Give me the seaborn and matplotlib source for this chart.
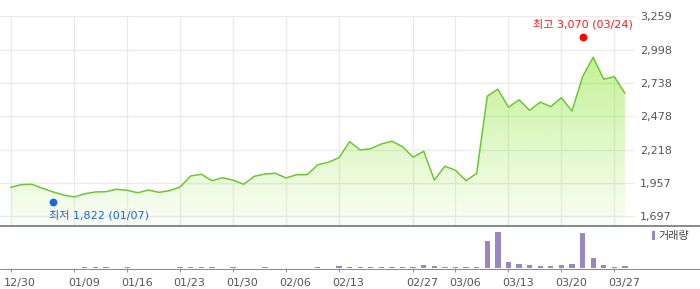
import numpy as np
import pandas as pd
import matplotlib
matplotlib.use('Agg')
import matplotlib.pyplot as plt
import matplotlib.transforms as mtransforms
from matplotlib.lines import Line2D
from matplotlib.patches import Patch
import seaborn as sns

# ---------------- data ----------------
dates = ['12/30', '01/02', '01/03', '01/06', '01/07', '01/08', '01/09',
         '01/10', '01/13', '01/14', '01/15', '01/16',
         '01/17', '01/20', '01/21', '01/22', '01/23',
         '01/24', '01/27', '01/28', '01/29', '01/30',
         '01/31', '02/03', '02/04', '02/05', '02/06',
         '02/07', '02/10', '02/11', '02/12', '02/13',
         '02/14', '02/17', '02/18', '02/24', '02/25', '02/26', '02/27',
         '02/28', '03/04', '03/05', '03/06',
         '03/07', '03/10', '03/11', '03/12', '03/13',
         '03/14', '03/17', '03/18', '03/19', '03/20',
         '03/21', '03/24', '03/25', '03/26', '03/27',
         '03/28']

close = [1923, 1944, 1947, 1916, 1887, 1863, 1848,
         1873, 1887, 1889, 1908, 1900,
         1881, 1902, 1884, 1897, 1926,
         2012, 2025, 1975, 1998, 1980,
         1947, 2009, 2027, 2033, 1996,
         2022, 2022, 2100, 2119, 2155,
         2280, 2215, 2225, 2262, 2283, 2241, 2158,
         2205, 1980, 2088, 2056,
         1975, 2033, 2636, 2690, 2549,
         2607, 2525, 2589, 2553, 2623,
         2519, 2787, 2939, 2768, 2787,
         2658]

volume_k = [10, 9, 11, 10, 12, 10, 11,
            72, 70, 72, 12, 70,
            11, 12, 10, 12, 72,
            70, 74, 70, 12, 72,
            11, 12, 72, 11, 10,
            12, 12, 72, 12, 130,
            74, 70, 72, 72, 70, 71, 74,
            185, 125, 72, 70,
            72, 74, 1620, 2160, 360,
            245, 180, 125, 128, 182,
            240, 2100, 600, 180, 72,
            125]

tick_dates = ['12/30', '01/09', '01/16', '01/23', '01/30', '02/06', '02/13',
              '02/27', '03/06', '03/13', '03/20', '03/27']
price_tick_labels = ['1,697', '1,957', '2,218', '2,478', '2,738', '2,998', '3,259']

high_date, high_value = '03/24', 3070
low_date, low_value = '01/07', 1822
volume_label = '거래량'

# ---------------- style ----------------
sns.set_theme(style='white')
plt.rcParams['font.family'] = ['DejaVu Sans', 'Noto Sans CJK KR']

LINE_C = '#6cc82f'
BAR_C = '#9a86c4'
GRID_C = '#ebebeb'
TXT_C = '#555555'

W, H = 700, 289
fig = plt.figure(figsize=(W / 100, H / 100), dpi=100)


def px_axes(x0, y0, x1, y1):
    return fig.add_axes([x0 / W, 1 - y1 / H, (x1 - x0) / W, (y1 - y0) / H])


ax = px_axes(0, 16.3, 635, 225.5)
axv = px_axes(0, 226, 635, 268)

n = len(close)
idx = np.arange(n)
df = pd.DataFrame({'i': idx, 'date': dates, 'close': close, 'volume': volume_k})
tick_pos = [dates.index(d) for d in tick_dates]
price_ticks = [float(s.replace(',', '')) for s in price_tick_labels]

xlim = (-1.01, 58.95)
ylim = (1625, price_ticks[-1])

# ---------------- price panel ----------------
sns.lineplot(data=df, x='i', y='close', ax=ax, color=LINE_C, lw=1.1, zorder=3)

poly = ax.fill_between(df['i'], df['close'], ylim[0], facecolor='none', edgecolor='none')
rgb = np.array([122, 226, 22]) / 255.0
rows = 256
grad = np.zeros((rows, 1, 4))
grad[:, 0, :3] = rgb
grad[:, 0, 3] = np.linspace(0.45, 0.035, rows)
im = ax.imshow(grad, extent=[0, n - 1, ylim[0], max(close)], aspect='auto',
               origin='upper', interpolation='bilinear', zorder=1)
im.set_clip_path(poly.get_paths()[0], transform=ax.transData)

ax.set_xlim(*xlim)
ax.set_ylim(*ylim)
ax.set_xticks(tick_pos)
ax.set_yticks(price_ticks)
ax.set_yticklabels(price_tick_labels)
ax.yaxis.tick_right()
ax.tick_params(axis='x', length=0, labelbottom=False, bottom=False)
ax.tick_params(axis='y', length=0, pad=3.6, labelsize=8, labelcolor=TXT_C,
               left=False, right=False)
ax.grid(True, color=GRID_C, lw=1.0)
ax.set_axisbelow(True)
for s in ax.spines.values():
    s.set_visible(False)
ax.set_xlabel('')
ax.set_ylabel('')

# high / low markers
ih = dates.index(high_date)
il = dates.index(low_date)
tr_hi = mtransforms.offset_copy(ax.transData, fig=fig, x=0, y=3, units='dots')
tr_lo = mtransforms.offset_copy(ax.transData, fig=fig, x=0, y=-2, units='dots')
ax.plot([ih], [high_value], 'o', color='#ff0000', ms=4.6, transform=tr_hi,
        clip_on=False, zorder=5)
ax.plot([il], [low_value], 'o', color='#1a66dd', ms=4.6, transform=tr_lo,
        clip_on=False, zorder=5)
ax.annotate(f'최고 {high_value:,} ({high_date})', xy=(ih, high_value),
            xytext=(0, 11.7), textcoords='offset points', ha='center', va='center',
            color='#ff1a1a', fontsize=8, annotation_clip=False)
ax.annotate(f'최저 {low_value:,} ({low_date})', xy=(il, low_value),
            xytext=(-2.7, -10.6), textcoords='offset points', ha='left', va='center',
            color='#1a66dd', fontsize=8, annotation_clip=False)

# ---------------- volume panel ----------------
sns.barplot(data=df, x='i', y='volume', ax=axv, color=BAR_C, saturation=1,
            width=0.5, order=list(idx), zorder=2, linewidth=0)
axv.set_xlim(*xlim)
axv.set_ylim(0, 2520)
axv.set_xticks(tick_pos)
axv.set_xticklabels(tick_dates)
axv.set_yticks([])
axv.tick_params(axis='x', bottom=True, length=3, width=0.8, color='#999999',
                pad=4, labelsize=8, labelcolor=TXT_C, direction='out')
shift = mtransforms.ScaledTranslation(9.5 / 100, 0, fig.dpi_scale_trans)
for lab in axv.get_xticklabels():
    lab.set_transform(lab.get_transform() + shift)
for s in axv.spines.values():
    s.set_visible(False)
axv.set_xlabel('')
axv.set_ylabel('')

axv.legend(handles=[Patch(facecolor=BAR_C, edgecolor='none')], labels=[volume_label],
           loc='upper left', bbox_to_anchor=(652 / W, 1 - 231 / H),
           bbox_transform=fig.transFigure, frameon=False, fontsize=8,
           handlelength=0.3, handleheight=0.9, handletextpad=0.3,
           borderpad=0, borderaxespad=0, labelcolor='#444444')

# separator lines spanning full width
fig.add_artist(Line2D([0, 1], [1 - 225.8 / H] * 2, transform=fig.transFigure,
                      color='#6e757c', lw=1.2))
fig.add_artist(Line2D([0, 1], [1 - 268.5 / H] * 2, transform=fig.transFigure,
                      color='#8c8c8c', lw=0.75))

fig.savefig('out.png', dpi=100, facecolor='white')
